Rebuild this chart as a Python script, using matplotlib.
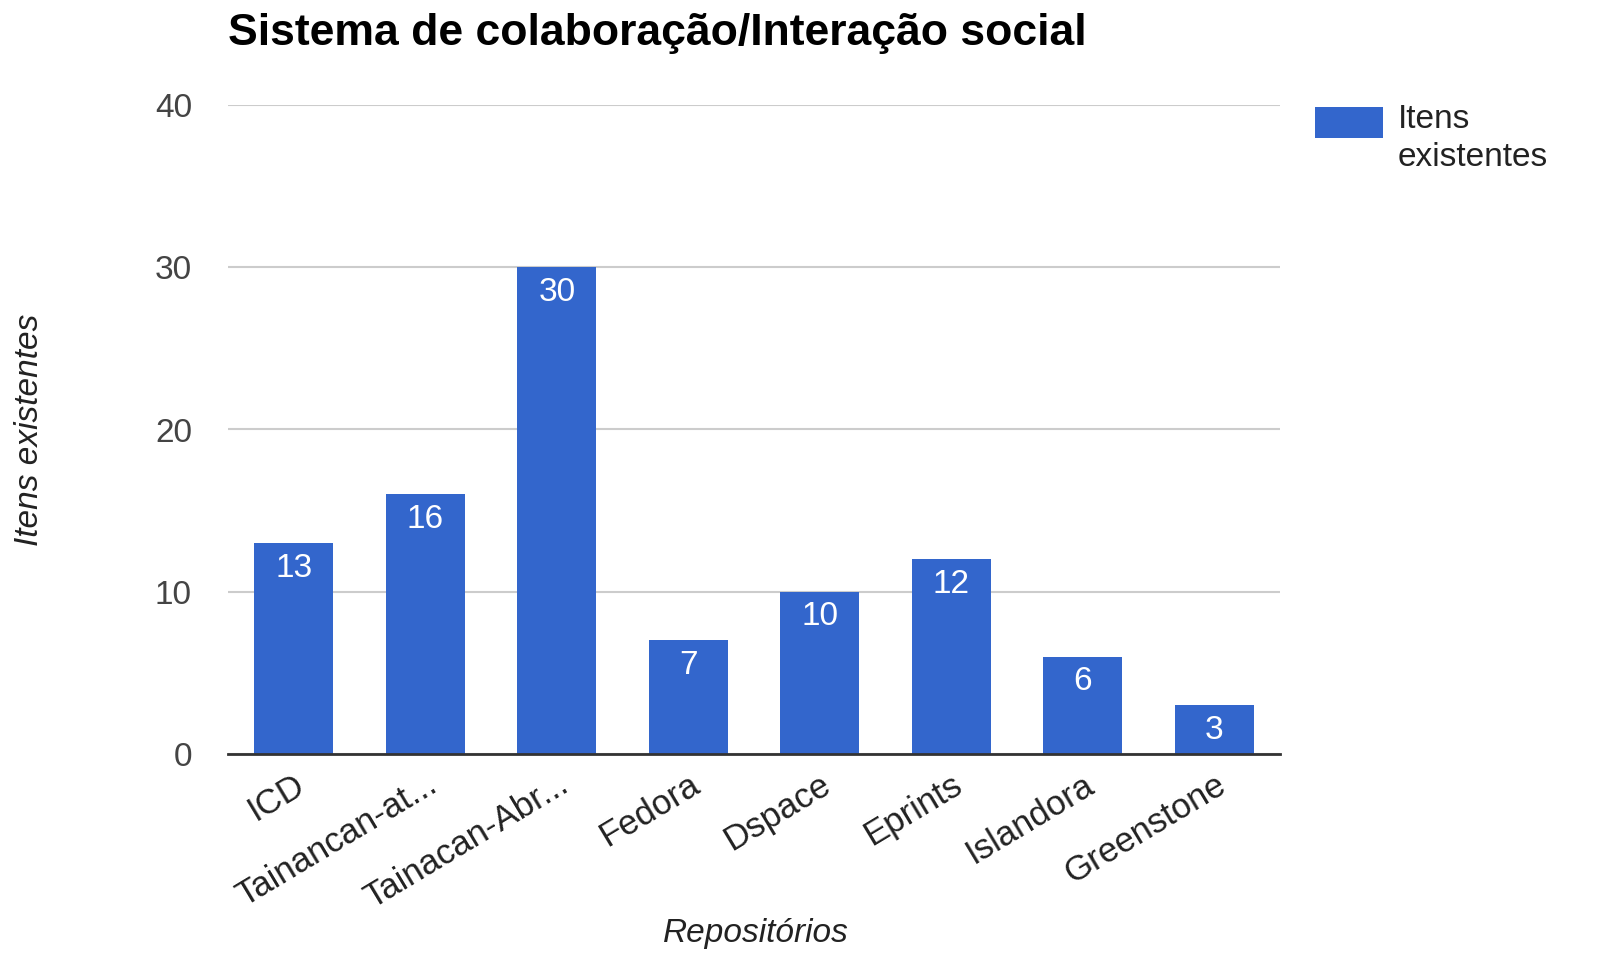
import matplotlib

matplotlib.use("Agg")
import matplotlib.pyplot as plt
from matplotlib.patches import Rectangle

plt.rcParams["font.family"] = ["Liberation Sans", "DejaVu Sans"]

categories = ["ICD", "Tainancan-at...", "Tainacan-Abr...", "Fedora", "Dspace",
              "Eprints", "Islandora", "Greenstone"]
values = [13, 16, 30, 7, 10, 12, 6, 3]
y_ticks = [0, 10, 20, 30, 40]

BAR_COLOR = "#3366cc"
TEXT_COLOR = "#222222"
FS = 24

W, H = 1601, 971
fig = plt.figure(figsize=(W / 100, H / 100), dpi=100)
ax = fig.add_axes((228 / W, 1 - 754 / H, (1280 - 228) / W, (754 - 105) / H))

x = range(len(categories))
bars = ax.bar(x, values, width=0.6, color=BAR_COLOR, zorder=3)

for rect, v in zip(bars, values):
    ax.annotate(str(v), (rect.get_x() + rect.get_width() / 2, v),
                xytext=(0, -7), textcoords="offset points",
                ha="center", va="top", color="white", fontsize=FS)

ax.set_xlim(-0.5, len(categories) - 0.5)
ax.set_ylim(0, 40)
ax.set_yticks(y_ticks)
ax.set_yticklabels([str(t) for t in y_ticks], fontsize=FS, color="#444444")
ax.set_xticks(list(x))
ax.set_xticklabels(categories, rotation=31, ha="right", rotation_mode="anchor",
                   fontsize=25, color=TEXT_COLOR)
ax.tick_params(axis="both", length=0)
ax.tick_params(axis="y", pad=26)
ax.tick_params(axis="x", pad=10)

ax.grid(axis="y", color="#cccccc", linewidth=1.5, zorder=0)
for side in ("top", "right", "left"):
    ax.spines[side].set_visible(False)
ax.spines["bottom"].set_color("#333333")
ax.spines["bottom"].set_linewidth(2)
ax.spines["bottom"].set_zorder(4)

fig.text(30 / W, 1 - 430 / H, "Itens existentes", rotation=90, fontsize=FS,
         style="italic", color=TEXT_COLOR, ha="center", va="center")
fig.text(756 / W, 1 - 933 / H, "Repositórios", fontsize=FS, style="italic",
         color=TEXT_COLOR, ha="center", va="center")

fig.text(228 / W, 1 - 45 / H, "Sistema de colaboração/Interação social",
         fontsize=32, fontweight="bold", ha="left", va="baseline")

# legend: swatch beside a two-line label
fig.patches.append(Rectangle((1315 / W, 1 - 138 / H), 68 / W, 31 / H,
                             transform=fig.transFigure, facecolor=BAR_COLOR,
                             edgecolor="none"))
fig.text(1398 / W, 1 - 104 / H, "Itens\nexistentes", fontsize=FS,
         color=TEXT_COLOR, ha="left", va="top", linespacing=1.3)

fig.savefig("out.png", dpi=100)
